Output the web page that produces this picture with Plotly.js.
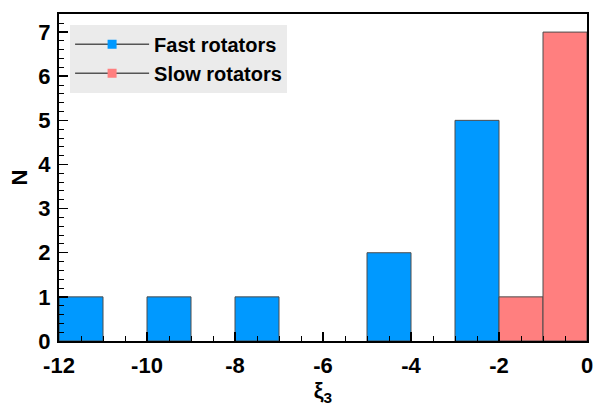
<!DOCTYPE html>
<html>
<head>
<meta charset="utf-8">
<script src="https://cdn.plot.ly/plotly-3.0.1.min.js"></script>
<style>html,body{margin:0;padding:0;background:#fff;}#chart{width:595px;height:406px;}</style>
</head>
<body>
<div id="chart"></div>
<script>
// Histogram bin centres (bin width 1) and counts
const fastCenters = [-11.5, -9.5, -7.5, -4.5, -2.5];
const fastCounts  = [1, 1, 1, 2, 5];
const slowCenters = [-1.5, -0.5];
const slowCounts  = [1, 7];
const binWidth = 1;
const seriesNames = ["Fast rotators", "Slow rotators"];
const xTicks = [-12, -10, -8, -6, -4, -2, 0];
const yTicks = [0, 1, 2, 3, 4, 5, 6, 7];

const blue = "#0099FF";
const red = "#FF7F7F";
const edge = "#4d4d4d";
const font = "Liberation Sans, Arial, sans-serif";

const traces = [
  {type: "bar", x: fastCenters, y: fastCounts, width: binWidth,
   marker: {color: blue, line: {color: edge, width: 1}}, showlegend: false, hoverinfo: "x+y"},
  {type: "bar", x: slowCenters, y: slowCounts, width: binWidth,
   marker: {color: red, line: {color: edge, width: 1}}, showlegend: false, hoverinfo: "x+y"},
  {type: "scatter", mode: "lines+markers", x: [null], y: [null], name: seriesNames[0],
   line: {color: "#555555", width: 1.5}, marker: {symbol: "square", size: 9, color: blue}},
  {type: "scatter", mode: "lines+markers", x: [null], y: [null], name: seriesNames[1],
   line: {color: "#555555", width: 1.5}, marker: {symbol: "square", size: 9, color: red}}
];

const layout = {
  width: 595, height: 406,
  margin: {l: 59, r: 8, t: 14, b: 65},
  paper_bgcolor: "#ffffff", plot_bgcolor: "#ffffff",
  barmode: "overlay", bargap: 0,
  font: {family: font, color: "#000"},
  xaxis: {
    range: [-12, 0], tickvals: xTicks, ticktext: xTicks.map(String),
    ticks: "inside", ticklen: 9, tickwidth: 1.5, tickcolor: "#000",
    minor: {dtick: 0.5, tick0: 0, ticks: "inside", ticklen: 5, tickwidth: 1, tickcolor: "#000"},
    showline: true, linecolor: "#000", linewidth: 2, mirror: true,
    showgrid: false, zeroline: false, ticklabelstandoff: 4,
    tickfont: {family: font, size: 22, color: "#000", weight: "bold"},
    title: {text: "<b>ξ<sub>3</sub></b>", font: {family: font, size: 22, color: "#000"}, standoff: 6}
  },
  yaxis: {
    range: [0, 7.41], tickvals: yTicks, ticktext: yTicks.map(String),
    ticks: "inside", ticklen: 9, tickwidth: 1.5, tickcolor: "#000",
    minor: {dtick: 0.2, tick0: 0, ticks: "inside", ticklen: 5, tickwidth: 1, tickcolor: "#000"},
    showline: true, linecolor: "#000", linewidth: 2, mirror: true,
    showgrid: false, zeroline: false, ticklabelstandoff: 2,
    tickfont: {family: font, size: 22, color: "#000", weight: "bold"},
    title: {text: "<b>N</b>", font: {family: font, size: 22, color: "#000"}, standoff: 5}
  },
  legend: {
    x: 0.021, y: 0.967, xanchor: "left", yanchor: "top",
    bgcolor: "#ebebeb", borderwidth: 0, itemwidth: 74,
    font: {family: font, size: 20, color: "#000", weight: "bold"},
    tracegroupgap: 0
  },
  showlegend: true
};

Plotly.newPlot("chart", traces, layout, {displayModeBar: false, staticPlot: true});
</script>
</body>
</html>
